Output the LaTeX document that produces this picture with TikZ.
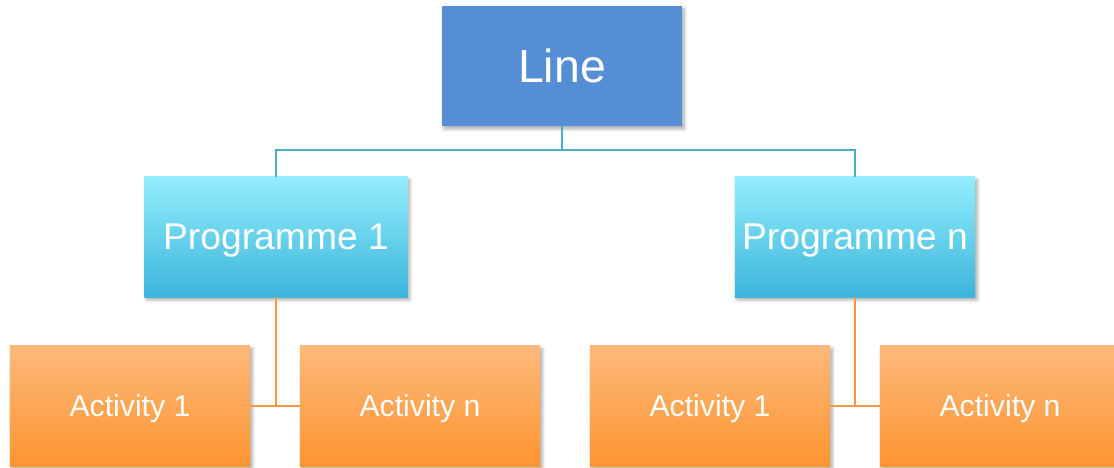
\documentclass[tikz,border=0pt]{standalone}
\usepackage{fontspec}
\setmainfont{Liberation Sans}
\usetikzlibrary{shadows.blur}
\definecolor{line-blue}{HTML}{558ED5}
\definecolor{prog-top}{HTML}{93EDFD}
\definecolor{prog-bot}{HTML}{3BB5DA}
\definecolor{act-top}{HTML}{FDB97A}
\definecolor{act-bot}{HTML}{FD9431}
\definecolor{link-teal}{HTML}{4BACC6}
\definecolor{link-orange}{HTML}{F79646}

\begin{document}
\begin{tikzpicture}[x=0.025cm, y=-0.025cm,
      every node/.style={text=white, inner sep=0pt, text depth=0pt},
      boxshadow/.style={blur shadow={shadow blur steps=6, shadow xshift=1.5pt,
          shadow yshift=-2pt, shadow opacity=35, shadow blur radius=2.5pt}},
      linebox/.style={boxshadow, fill=line-blue, minimum width=6cm,
          minimum height=3cm, font=\fontsize{33}{36}\selectfont},
      progbox/.style={boxshadow, top color=prog-top, bottom color=prog-bot,
          minimum height=3cm, font=\fontsize{26.5}{30}\selectfont},
      actbox/.style={boxshadow, top color=act-top, bottom color=act-bot,
          minimum width=6cm, minimum height=3cm, font=\fontsize{21.5}{25}\selectfont},
      tealink/.style={link-teal, line width=1.8pt},
      orangelink/.style={link-orange, line width=1.8pt}]
    \useasboundingbox (0,0) rectangle (1114,468);
    % top level
    \node[linebox] (line) at (562,66) {Line};
    % programmes
    \node[progbox, minimum width=6.575cm] (prog1) at (276,237) {Programme 1};
    \node[progbox, minimum width=6cm] (progn) at (855,237) {Programme n};
    % activities
    \node[actbox] (act11) at (130,406) {Activity 1};
    \node[actbox] (act1n) at (420,406) {Activity n};
    \node[actbox] (actn1) at (710,406) {Activity 1};
    \node[actbox] (actnn) at (1000,406) {Activity n};
    % connectors
    \coordinate (bus) at (562,150);
    \draw[tealink] (line.south) -- (bus);
    \draw[tealink] (prog1.north) |- (bus) -| (progn.north);
    \draw[orangelink] (prog1.south) -- (prog1.south |- act11.east);
    \draw[orangelink] (act11.east) -- (act1n.west);
    \draw[orangelink] (progn.south) -- (progn.south |- actn1.east);
    \draw[orangelink] (actn1.east) -- (actnn.west);
\end{tikzpicture}
\end{document}
